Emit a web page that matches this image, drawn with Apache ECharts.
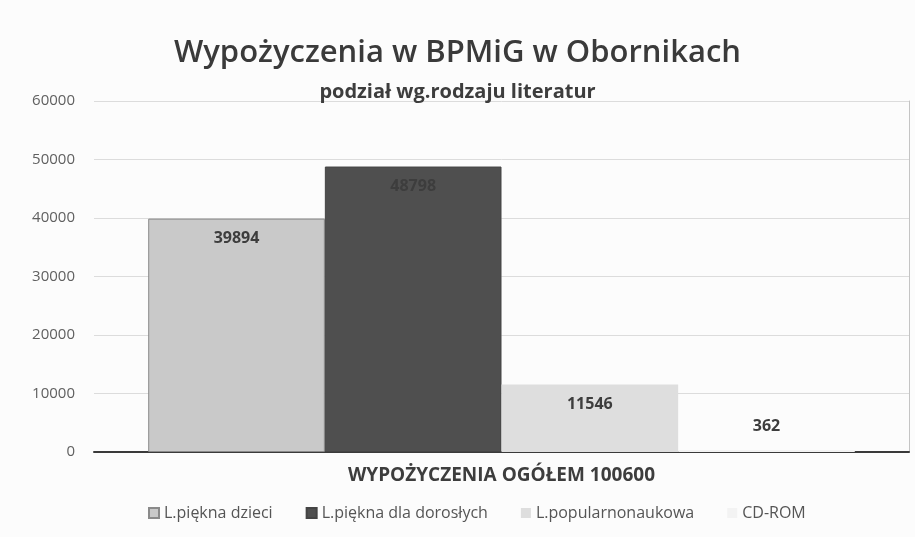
<!DOCTYPE html>
<html>
<head>
    <meta charset="utf-8">
    <script src="https://cdn.jsdelivr.net/npm/echarts@6/dist/echarts.min.js"></script>
</head>
<body style="margin:0">
<div id="main" style="width: 915px; height: 537px;"></div>
</body>
</html>

<script type="text/javascript">
    // dane z wykresu
    let seriesNames = ['L.piękna dzieci', 'L.piękna dla dorosłych', 'L.popularnonaukowa', 'CD-ROM']
    let seriesValues = [39894, 48798, 11546, 362]
    let barColors = ['#c9c9c9', '#4f4f4f', '#dedede', '#f3f3f3']
    let yTicks = [0, 10000, 20000, 30000, 40000, 50000, 60000]
    let total = 100600

    let font = 'Open Sans'
    let chart = echarts.init(document.getElementById('main'))

    let series = seriesNames.map((name, i) => ({
        name: name,
        type: 'bar',
        data: [seriesValues[i]],
        barGap: '0%',
        barCategoryGap: '13.3%',
        itemStyle: {
            color: barColors[i],
            borderColor: i === 0 ? '#8a8a8a' : (i === 1 ? '#444' : barColors[i]),
            borderWidth: i < 2 ? 1 : 0
        },
        label: {
            show: true,
            position: seriesValues[i] < 3000 ? 'top' : 'insideTop',
            distance: seriesValues[i] < 3000 ? 15 : 12,
            fontFamily: font,
            fontWeight: 'bold',
            fontSize: 16,
            color: '#3d3d3d'
        }
    }))

    let option = {
        backgroundColor: '#fcfcfc',
        title: [{
            text: 'Wypożyczenia w BPMiG w Obornikach',
            left: 'center',
            top: 33,
            textStyle: { fontFamily: font, fontSize: 31, fontWeight: 600, color: '#3a3a3a' }
        }, {
            text: 'podział wg.rodzaju literatur',
            left: 'center',
            top: 77,
            textStyle: { fontFamily: font, fontSize: 20, fontWeight: 'bold', color: '#3d3d3d' }
        }],
        grid: { left: 94, right: 6, top: 101, bottom: 85 },
        legend: {
            data: seriesNames,
            bottom: 11,
            left: 143,
            itemGap: 33,
            itemWidth: 10,
            itemHeight: 10,
            icon: 'rect',
            textStyle: { fontFamily: font, fontSize: 16, color: '#555' }
        },
        xAxis: {
            type: 'category',
            data: [''],
            name: 'WYPOŻYCZENIA OGÓŁEM ' + total,
            nameLocation: 'middle',
            nameGap: 14,
            nameTextStyle: { fontFamily: font, fontSize: 19, fontWeight: 'bold', color: '#3d3d3d' },
            axisTick: { show: false },
            axisLabel: { show: false },
            axisLine: { lineStyle: { color: '#3a3a3a', width: 2 } }
        },
        yAxis: [{
            type: 'value',
            min: yTicks[0],
            max: yTicks[yTicks.length - 1],
            interval: yTicks[1] - yTicks[0],
            axisLabel: {
                fontFamily: font, fontSize: 15, color: '#606060', margin: 19,
                formatter: v => String(v)
            },
            splitLine: { lineStyle: { color: '#dcdcdc' } },
            axisLine: { show: false },
            axisTick: { show: false }
        }, {
            type: 'value',
            position: 'right',
            min: yTicks[0],
            max: yTicks[yTicks.length - 1],
            interval: yTicks[1] - yTicks[0],
            axisLabel: { show: false },
            splitLine: { show: false },
            axisTick: { show: false },
            axisLine: { show: true, lineStyle: { color: '#c4c4c4' } }
        }],
        series: series
    }
    chart.setOption(option)
</script>
